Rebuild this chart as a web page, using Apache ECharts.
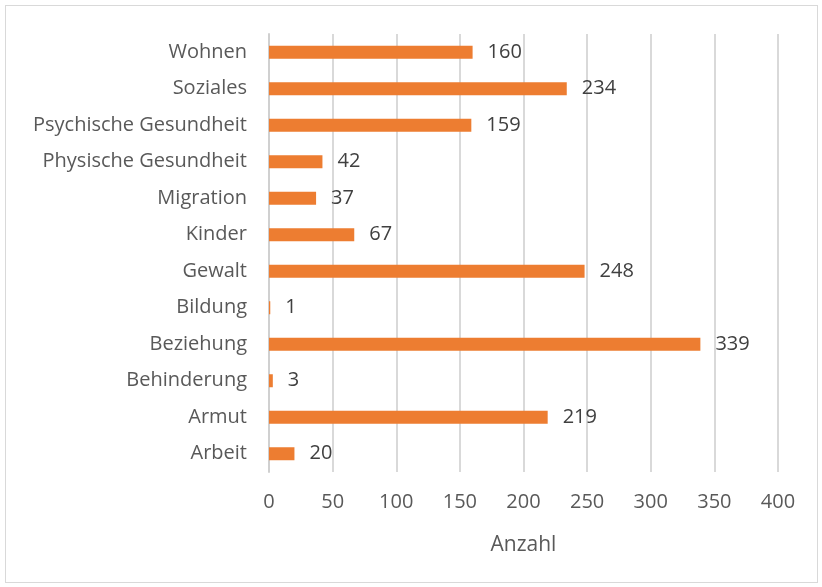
<!DOCTYPE html>
<html>
<head>
<meta charset="utf-8">
<script src="https://cdn.jsdelivr.net/npm/echarts@6/dist/echarts.min.js"></script>
<style>
html,body{margin:0;padding:0;background:#fff;}
#chart{width:822px;height:587px;}
.frame{position:absolute;left:5px;top:5px;width:811px;height:576px;border:1px solid #d9d9d9;pointer-events:none;}
</style>
</head>
<body>
<div id="chart"></div>
<div class="frame"></div>
<script>
// Kategorien von unten nach oben
var kategorien = ['Arbeit','Armut','Behinderung','Beziehung','Bildung','Gewalt','Kinder','Migration','Physische Gesundheit','Psychische Gesundheit','Soziales','Wohnen'];
var anzahl = [20,219,3,339,1,248,67,37,42,159,234,160];
var achsenTicks = [0,50,100,150,200,250,300,350,400];

var fontFam = '"Open Sans","Noto Sans",sans-serif';
var myChart = echarts.init(document.getElementById('chart'));
option = {
	animation : false,
	grid : {
		left : 269,
		right : 44,
		top : 34,
		bottom : 115
	},
	xAxis : {
		type : 'value',
		min : achsenTicks[0],
		max : achsenTicks[achsenTicks.length-1],
		interval : 50,
		name : 'Anzahl',
		nameLocation : 'middle',
		nameGap : 63,
		nameTextStyle : {color:'#595959', fontSize:21, fontFamily:fontFam},
		axisLine : {show:false},
		axisTick : {show:false},
		axisLabel : {color:'#595959', fontSize:20, fontFamily:fontFam, margin:20},
		splitLine : {lineStyle:{color:'#d9d9d9', width:2}}
	},
	yAxis : {
		type : 'category',
		data : kategorien,
		axisLine : {lineStyle:{color:'#d0d0d0', width:2}},
		axisTick : {show:false},
		axisLabel : {color:'#595959', fontSize:20, fontFamily:fontFam, margin:22}
	},
	series : [{
		name : 'Anzahl',
		type : 'bar',
		data : anzahl,
		barWidth : 13,
		itemStyle : {color:'#ed7d31'},
		label : {
			show : true,
			position : 'right',
			distance : 15,
			color : '#404040',
			fontSize : 20,
			fontFamily : fontFam
		}
	}]
};
myChart.setOption(option);
</script>
</body>
</html>
